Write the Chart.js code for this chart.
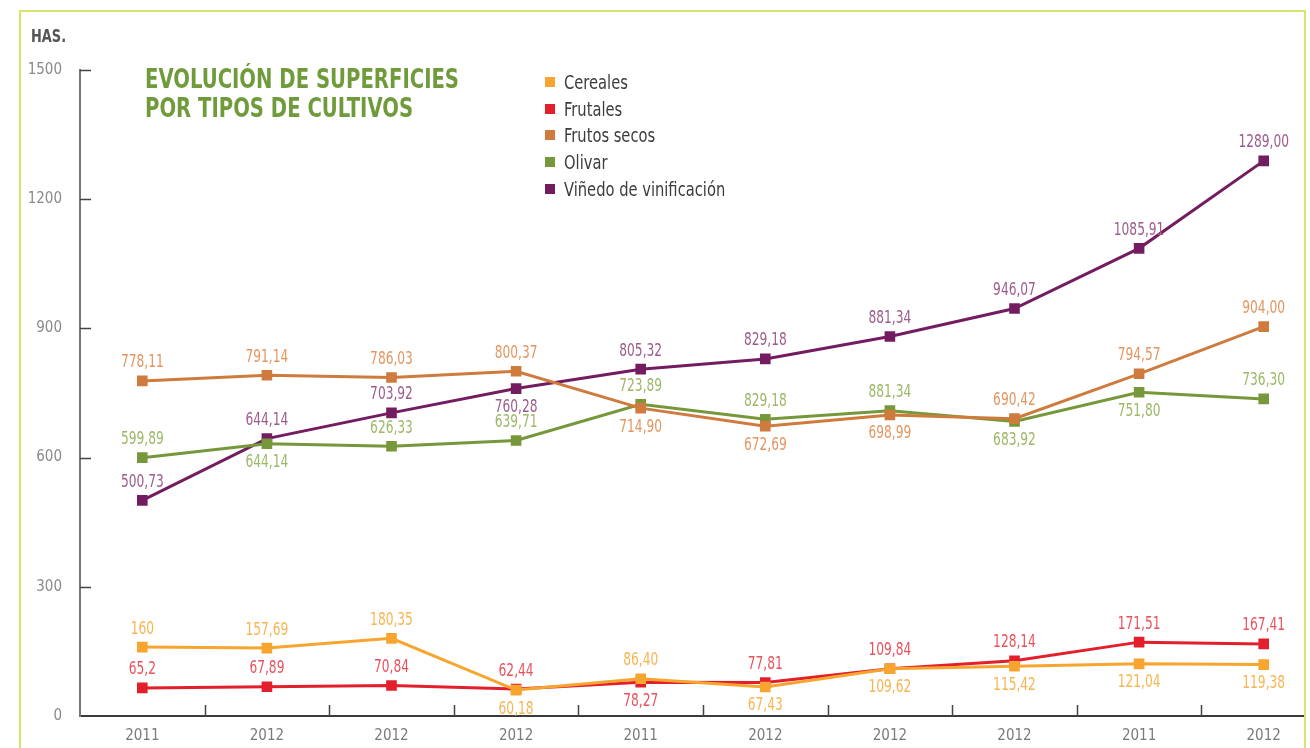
<!DOCTYPE html>
<html>
<head>
<meta charset="utf-8">
<script src="https://cdn.jsdelivr.net/npm/chart.js@4/dist/chart.umd.min.js"></script>
<style>
  html, body { margin: 0; padding: 0; background: #fff; width: 1310px; height: 748px; overflow: hidden; }
  #wrap { position: absolute; left: 0; top: 0; width: 1304px; height: 748px; overflow: hidden; }
  #frame { position: absolute; left: 19px; top: 10px; width: 1283px; height: 800px; border: 2px solid #d3e56d; border-bottom: none; pointer-events: none; }
  #has { position: absolute; left: 31px; top: 25px; font: bold 18px "DejaVu Sans Condensed", sans-serif; color: #555; transform: scaleX(0.8); transform-origin: 0 0; }
  #title { position: absolute; left: 145px; top: 65px; font: bold 26px/28.5px "DejaVu Sans Condensed", sans-serif; color: #6f9b3b; transform: scaleX(0.84); transform-origin: 0 0; white-space: nowrap; }
  #legend { position: absolute; left: 545px; top: 69px; font: 19px "DejaVu Sans Condensed", sans-serif; color: #3c3c3c; }
  #legend .row { height: 26.6px; display: flex; align-items: center; }
  #legend .sw { width: 10px; height: 10px; margin-right: 9px; flex: none; }
  #legend .tx { display: inline-block; transform: scaleX(0.86); transform-origin: 0 50%; white-space: nowrap; }
</style>
</head>
<body>
<div id="wrap"><canvas id="c" width="1340" height="748" style="width:1340px;height:748px"></canvas></div>
<div id="frame"></div>
<div id="has">HAS.</div>
<div id="title">EVOLUCIÓN DE SUPERFICIES<br>POR TIPOS DE CULTIVOS</div>
<div id="legend"></div>
<script>
// ---- data ----
const categories = ["2011","2012","2012","2012","2011","2012","2012","2012","2011","2012"];
const yTicks = [0, 300, 600, 900, 1200, 1500];
const seriesNames = ["Cereales","Frutales","Frutos secos","Olivar","Viñedo de vinificación"];

const cereales    = [160, 157.69, 180.35, 60.18, 86.40, 67.43, 109.62, 115.42, 121.04, 119.38];
const frutales    = [65.2, 67.89, 70.84, 62.44, 78.27, 77.81, 109.84, 128.14, 171.51, 167.41];
const frutosSecos = [778.11, 791.14, 786.03, 800.37, 714.90, 672.69, 698.99, 690.42, 794.57, 904.00];
const olivar      = [599.89, 632, 626.33, 639.71, 723.89, 689, 709, 683.92, 751.80, 736.30];
const vinedo      = [500.73, 644.14, 703.92, 760.28, 805.32, 829.18, 881.34, 946.07, 1085.91, 1289.00];

// label texts as printed in the chart
const cerealesLabels    = ["160","157,69","180,35","60,18","86,40","67,43","109,62","115,42","121,04","119,38"];
const frutalesLabels    = ["65,2","67,89","70,84","62,44","78,27","77,81","109,84","128,14","171,51","167,41"];
const frutosSecosLabels = ["778,11","791,14","786,03","800,37","714,90","672,69","698,99","690,42","794,57","904,00"];
const olivarLabels      = ["599,89","644,14","626,33","639,71","723,89","829,18","881,34","683,92","751,80","736,30"];
const vinedoLabels      = ["500,73","644,14","703,92","760,28","805,32","829,18","881,34","946,07","1085,91","1289,00"];

// label side: a = above, b = below
const cerealesSide    = ["a","a","a","b","a","b","b","b","b","b"];
const frutalesSide    = ["a","a","a","a","b","a","a","a","a","a"];
const frutosSecosSide = ["a","a","a","a","b","b","b","a","a","a"];
const olivarSide      = ["a","b","a","a","a","a","a","b","b","a"];
const vinedoSide      = ["a","a","a","b","a","a","a","a","a","a"];

// ---- styles ----
const lineColors  = ["#f7a52f","#e31f2b","#cf7b3d","#76983a","#731d60"];
const labelColors = ["#f9b450","#e9525c","#e3965f","#9cb866","#9c5c8b"];

const values = [cereales, frutales, frutosSecos, olivar, vinedo];
const labelTexts = [cerealesLabels, frutalesLabels, frutosSecosLabels, olivarLabels, vinedoLabels];
const labelSides = [cerealesSide, frutalesSide, frutosSecosSide, olivarSide, vinedoSide];

const FONT = '"DejaVu Sans Condensed", sans-serif';

const datasets = seriesNames.map((name, i) => ({
  label: name,
  data: values[i],
  borderColor: lineColors[i],
  backgroundColor: lineColors[i],
  borderWidth: 3,
  tension: 0,
  pointStyle: 'rect',
  pointRadius: 7.5,
  pointHoverRadius: 7.5,
  pointBorderWidth: 0,
  pointBackgroundColor: lineColors[i],
  borderJoinStyle: 'miter'
}));

const valueLabelPlugin = {
  id: 'valueLabels',
  afterDatasetsDraw(chart) {
    const ctx = chart.ctx;
    const sx = 0.8;
    chart.data.datasets.forEach((ds, di) => {
      const meta = chart.getDatasetMeta(di);
      meta.data.forEach((pt, i) => {
        const dy = labelSides[di][i] === 'a' ? -18 : 19;
        ctx.save();
        ctx.translate(pt.x, pt.y + dy);
        ctx.scale(sx, 1);
        ctx.font = '17px ' + FONT;
        ctx.textAlign = 'center';
        ctx.textBaseline = 'middle';
        ctx.fillStyle = labelColors[di];
        ctx.fillText(labelTexts[di][i], 0, 0);
        ctx.restore();
      });
    });
  }
};

const innerTicksPlugin = {
  id: 'innerTicks',
  afterDraw(chart) {
    const ctx = chart.ctx, a = chart.chartArea;
    const ys = chart.scales.y, xs = chart.scales.x;
    ctx.save();
    ctx.strokeStyle = '#444';
    ctx.lineWidth = 1.5;
    ctx.beginPath();
    ys.ticks.forEach((t, i) => {
      if (i === 0) return;
      const y = Math.round(ys.getPixelForTick(i)) + 0.5;
      ctx.moveTo(a.left, y); ctx.lineTo(a.left + 11, y);
    });
    for (let i = 1; i < xs.ticks.length; i++) {
      const x = Math.round((xs.getPixelForTick(i - 1) + xs.getPixelForTick(i)) / 2) + 0.5;
      ctx.moveTo(x, a.bottom); ctx.lineTo(x, a.bottom - 11);
    }
    ctx.stroke();
    ctx.restore();
  }
};

const chart = new Chart(document.getElementById('c'), {
  type: 'line',
  data: { labels: categories, datasets },
  options: {
    responsive: false,
    animation: false,
    devicePixelRatio: 1,
    layout: { padding: { left: 0, top: 70, right: 14, bottom: 0 } },
    plugins: { legend: { display: false }, tooltip: { enabled: false }, title: { display: false } },
    scales: {
      x: {
        offset: true,
        grid: { display: false, drawTicks: false, offset: true },
        border: { display: true, color: '#3a3a3a', width: 2 },
        ticks: { color: '#7a7a7a', font: { family: FONT, size: 15 }, padding: 11, maxRotation: 0, autoSkip: false },
        afterFit(s) { s.height = 32; }
      },
      y: {
        min: 0, max: 1500,
        afterBuildTicks(s) { s.ticks = yTicks.map(v => ({ value: v })); },
        grid: { display: false, drawTicks: false },
        border: { display: true, color: '#777', width: 2 },
        ticks: { color: '#8a8a8a', font: { family: FONT, size: 15 }, padding: 18, callback: v => String(v) },
        afterFit(s) { s.width = 80; }
      }
    }
  },
  plugins: [valueLabelPlugin, innerTicksPlugin]
});

// HTML legend built from chart datasets
const lg = document.getElementById('legend');
chart.data.datasets.forEach(ds => {
  const row = document.createElement('div'); row.className = 'row';
  const sw = document.createElement('div'); sw.className = 'sw'; sw.style.background = ds.borderColor;
  const tx = document.createElement('span'); tx.className = 'tx'; tx.textContent = ds.label;
  row.appendChild(sw); row.appendChild(tx); lg.appendChild(row);
});
</script>
</body>
</html>
